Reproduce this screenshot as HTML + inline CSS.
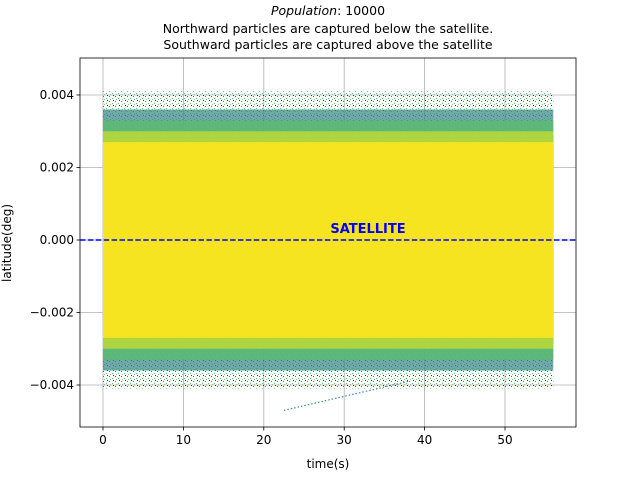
<!DOCTYPE html>
<html><head><meta charset="utf-8"><style>
body{margin:0;background:#fff;font-family:"Liberation Sans","DejaVu Sans",sans-serif}
svg text{font-family:"DejaVu Sans","Liberation Sans",sans-serif}
</style></head><body>
<svg id="c" width="640" height="480" xmlns="http://www.w3.org/2000/svg">
<defs>
<pattern id="speck" width="6" height="5" patternUnits="userSpaceOnUse">
<rect x="1" y="1" width="1" height="1" fill="#31688e"/><rect x="4" y="3" width="1" height="1" fill="#35b779"/><rect x="5" y="0" width="1" height="1" fill="#440154"/><rect x="2" y="4" width="1" height="1" fill="#6ece58"/>
</pattern>
</defs>
</svg>
<script>
const xTicks=[0,10,20,30,40,50];
const yTicks=[-0.004,-0.002,0,0.002,0.004];
const yTickLabels=["−0.004","−0.002","0.000","0.002","0.004"];
const timeRange=[0,56];
// latitude bands (upper, lower) of particle density, outermost first
const bandUpper=[0.0041,0.0036,0.0033,0.0030,0.0027];
const bandLower=[-0.0041,-0.0036,-0.0033,-0.0030,-0.0027];
const bandColor=["url(#speck)","#3d8c8a","#5cbb72","#b5d83a","#f7e421"];
const bandOpacity=[0.9,0.75,0.85,0.9,1];
const streakT=[22.5,38];
const streakLat=[-0.0047,-0.0039];
const satelliteLat=0;

const L=80,R=576,T=58,B=427;
const x=v=>103+v*8.04;
const y=v=>240-v*36250;
const s=document.getElementById('c');
const NS='http://www.w3.org/2000/svg';
function mk(t,a,p){const e=document.createElementNS(NS,t);for(const k in a)e.setAttribute(k,a[k]);(p||s).appendChild(e);return e;}

xTicks.forEach(v=>{const g=mk('line',{x1:x(v),x2:x(v),y1:T,y2:B,stroke:'#b0b0b0','stroke-width':0.8});
});
yTicks.forEach(v=>{const g=mk('line',{x1:L,x2:R,y1:y(v),y2:y(v),stroke:'#b0b0b0','stroke-width':0.8});
});

bandUpper.forEach((u,i)=>{const r=mk('rect',{x:x(timeRange[0]),y:y(u),width:x(timeRange[1])-x(timeRange[0]),height:y(bandLower[i])-y(u),fill:bandColor[i],opacity:bandOpacity[i]});
});

const st=mk('line',{x1:x(streakT[0]),y1:y(streakLat[0]),x2:x(streakT[1]),y2:y(streakLat[1]),stroke:'#3e8d8a','stroke-width':1.2,'stroke-dasharray':'1.5 2'});


const sl=mk('line',{x1:L,x2:R,y1:y(satelliteLat),y2:y(satelliteLat),stroke:'#0000ff','stroke-width':1.5,'stroke-dasharray':'5.5 2.4'});

const stx=mk('text',{x:368,y:233,'text-anchor':'middle','font-size':13,'font-weight':'bold',fill:'#0000ff'});stx.textContent='SATELLITE';


const fr=mk('rect',{x:L,y:T,width:R-L,height:B-T,fill:'none',stroke:'#000','stroke-width':0.8});


xTicks.forEach(v=>{mk('line',{x1:x(v),x2:x(v),y1:B,y2:B+3.5,stroke:'#000','stroke-width':0.8});
const t=mk('text',{x:x(v),y:B+17,'text-anchor':'middle','font-size':12});t.textContent=v;
});
yTicks.forEach((v,i)=>{mk('line',{x1:L-3.5,x2:L,y1:y(v),y2:y(v),stroke:'#000','stroke-width':0.8});
const t=mk('text',{x:L-6,y:y(v)+4,'text-anchor':'end','font-size':12});t.textContent=yTickLabels[i];
});

const xl=mk('text',{x:328,y:468,'text-anchor':'middle','font-size':12});xl.textContent='time(s)';

const yl=mk('text',{x:11,y:243,'text-anchor':'middle','font-size':12,transform:'rotate(-90 11 243)'});yl.textContent='latitude(deg)';


const t1=mk('text',{x:328,y:15,'text-anchor':'middle','font-size':12.5});
t1.innerHTML='<tspan font-style="italic">Population</tspan>: 10000';

const t2=mk('text',{x:328,y:33,'text-anchor':'middle','font-size':12.5});t2.textContent='Northward particles are captured below the satellite.';

const t3=mk('text',{x:328,y:49,'text-anchor':'middle','font-size':12.5});t3.textContent='Southward particles are captured above the satellite';

</script>
</body></html>
